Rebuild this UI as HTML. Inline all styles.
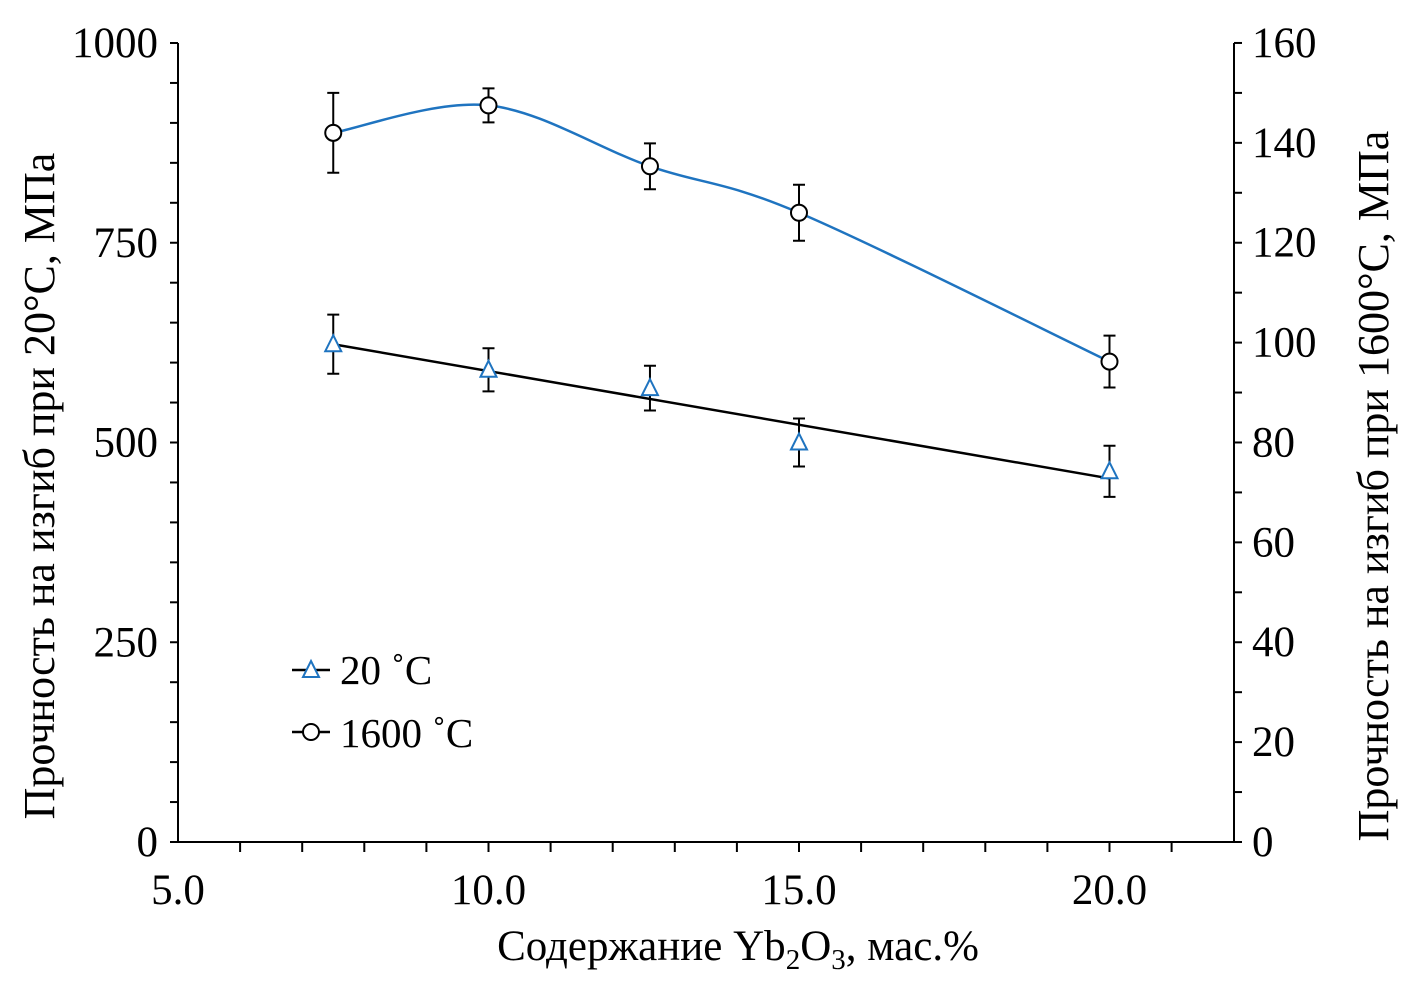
<!DOCTYPE html>
<html><head><meta charset="utf-8"><style>
body{margin:0;background:#fff}
text{font-family:"Liberation Serif",serif;fill:#000}
</style></head><body>
<svg id="c" width="1411" height="988">
</svg>
<script>
const xVals=[7.5,10,12.6,15,20];
const v20=[623,591,568,500,464];
const e20=[37,27,28,30,32];
const fit20=[623,455];
const v1600=[142,147.5,135.3,126,96.2];
const e1600=[8,3.4,4.6,5.6,5.2];
const leftTicks=[0,250,500,750,1000];
const rightTicks=[0,20,40,60,80,100,120,140,160];
const xTicks=[5,10,15,20];
const NS="http://www.w3.org/2000/svg";
const svg=document.getElementById('c');
const X=v=>178+(v-5)*62.1;
const YL=v=>842-v*0.799;
const YR=v=>842-v*4.994;
function el(t,a,p){const e=document.createElementNS(NS,t);for(const k in a)e.setAttribute(k,a[k]);(p||svg).appendChild(e);return e;}
let a=el('path',{d:'M178,43V842H1234V43',fill:'none',stroke:'#000','stroke-width':2});


for(let v=0;v<=1000;v+=50){el('line',{x1:170,x2:178,y1:YL(v),y2:YL(v),stroke:'#000','stroke-width':2});}
for(let v=0;v<=160;v+=10){el('line',{x1:1234,x2:1242,y1:YR(v),y2:YR(v),stroke:'#000','stroke-width':2});}
for(let v=6;v<=21;v++){el('line',{x1:X(v),x2:X(v),y1:842,y2:852,stroke:'#000','stroke-width':2});}
leftTicks.forEach(v=>{const t=el('text',{x:158,y:YL(v)+14,'text-anchor':'end','font-size':43});t.textContent=v;

});
rightTicks.forEach(v=>{const t=el('text',{x:1252,y:YR(v)+14,'font-size':43});t.textContent=v;

});
xTicks.forEach(v=>{const t=el('text',{x:X(v),y:904,'text-anchor':'middle','font-size':43});t.textContent=v.toFixed(1);

});
let t=el('text',{x:738,y:960,'text-anchor':'middle','font-size':43});
t.innerHTML='Содержание Yb<tspan font-size="29" dy="9">2</tspan><tspan dy="-9">O</tspan><tspan font-size="29" dy="9">3</tspan><tspan dy="-9">, мас.%</tspan>';


t=el('text',{transform:'translate(54,486) rotate(-90)','text-anchor':'middle','font-size':44});t.textContent='Прочность на изгиб при 20°С, МПа';


t=el('text',{transform:'translate(1388,486) rotate(-90)','text-anchor':'middle','font-size':44});t.textContent='Прочность на изгиб при 1600°С, МПа';


const pts=xVals.map((x,i)=>[X(x),YR(v1600[i])]);
let d='M'+pts[0];
for(let i=0;i<pts.length-1;i++){const p0=pts[Math.max(0,i-1)],p1=pts[i],p2=pts[i+1],p3=pts[Math.min(pts.length-1,i+2)];
d+=' C'+(p1[0]+(p2[0]-p0[0])/6)+','+(p1[1]+(p2[1]-p0[1])/6)+' '+(p2[0]-(p3[0]-p1[0])/6)+','+(p2[1]-(p3[1]-p1[1])/6)+' '+p2;}
let c=el('path',{d:d,fill:'none',stroke:'#1f74c0','stroke-width':2.5});


let l=el('line',{x1:X(xVals[0]),y1:YL(fit20[0]),x2:X(xVals[4]),y2:YL(fit20[1]),stroke:'#000','stroke-width':2.5});


function eb(x,y1,y2){el('path',{d:`M${x},${y1}V${y2}M${x-6},${y1}H${x+6}M${x-6},${y2}H${x+6}`,stroke:'#000','stroke-width':2,fill:'none'});}
xVals.forEach((x,i)=>{const px=X(x);
eb(px,YL(v20[i]+e20[i]),YL(v20[i]-e20[i]));
const y=YL(v20[i]);
const m=el('path',{d:`M${px},${y-9}L${px+8},${y+7}L${px-8},${y+7}Z`,fill:'#fff',stroke:'#1f74c0','stroke-width':2});


eb(px,YR(v1600[i]+e1600[i]),YR(v1600[i]-e1600[i]));
const o=el('circle',{cx:px,cy:YR(v1600[i]),r:8,fill:'#fff',stroke:'#000','stroke-width':2});

});
let g=el('g',{});


el('line',{x1:292,x2:330,y1:670,y2:670,stroke:'#000','stroke-width':2.5},g);
el('path',{d:'M311,661L319,677L303,677Z',fill:'#fff',stroke:'#1f74c0','stroke-width':2},g);
t=el('text',{x:340,y:684,'font-size':41},g);t.textContent='20 ˚С';
el('line',{x1:292,x2:330,y1:732,y2:732,stroke:'#000','stroke-width':2.5},g);
el('circle',{cx:311,cy:732,r:8,fill:'#fff',stroke:'#000','stroke-width':2},g);
t=el('text',{x:340,y:747,'font-size':41},g);t.textContent='1600 ˚С';
</script>
</body></html>
